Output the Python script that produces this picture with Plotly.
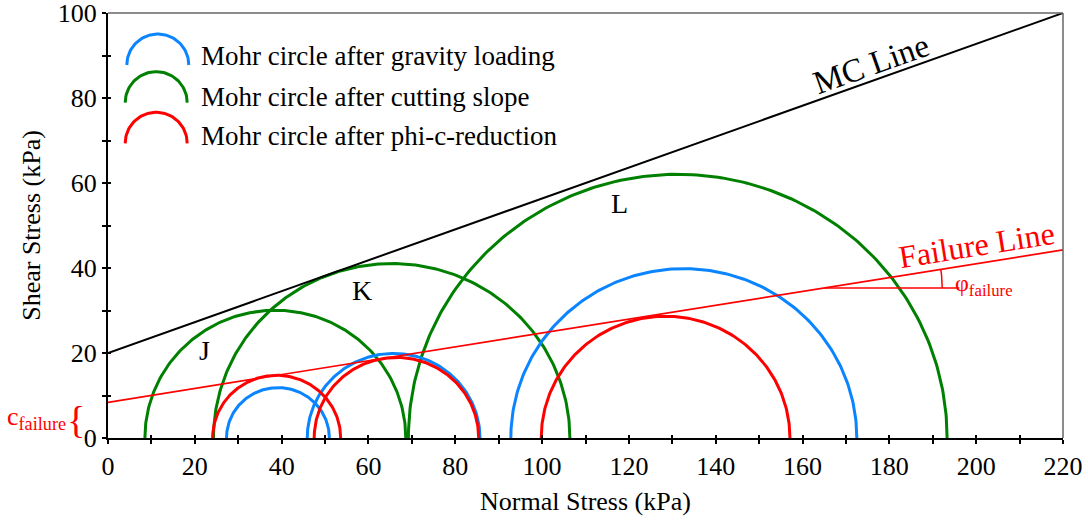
import numpy as np
import plotly.graph_objects as go

# ---------------- data ----------------
# Mohr circles given by minor / major principal stress (kPa)
gravity_s3 = [27.3, 45.9, 92.8]
gravity_s1 = [51.0, 85.7, 172.5]
cutting_s3 = [8.5, 24.3, 69.2]
cutting_s1 = [68.6, 106.4, 193.3]
phic_s3 = [24.1, 47.5, 99.8]
phic_s1 = [53.6, 85.4, 157.1]

# strength envelopes: intercept c (kPa) and slope tan(phi)
mc_c, mc_tan = 20.0, 0.3636
fail_c, fail_tan = 8.4, 0.163

circle_labels = ["J", "K", "L"]
label_x = [22.3, 58.5, 117.9]
label_y = [20.5, 34.8, 55.2]

legend_names = ["Mohr circle after gravity loading",
                "Mohr circle after cutting slope",
                "Mohr circle after phi-c-reduction"]
colors = ["#0A84FF", "#008000", "#FF0000"]

X_MAX, Y_MAX = 220, 100
x_ticks = list(range(0, 221, 20))
y_ticks = list(range(0, 101, 20))

FONT = "Liberation Serif, Times New Roman, DejaVu Serif, serif"

# ---------------- layout geometry ----------------
W, H = 1088, 529
ML, MR, MT, MB = 108, 25, 13, 91
pw, ph = W - ML - MR, H - MT - MB
sx = pw / X_MAX          # px per kPa (x)
sy = ph / Y_MAX          # px per kPa (y)


def px2data(px, py):
    return (np.asarray(px) - ML) / sx, (H - MB - np.asarray(py)) / sy


def px2paper(px, py):
    return (px - ML) / pw, (H - MB - py) / ph


fig = go.Figure()

theta = np.linspace(0, np.pi, 200)


def add_circles(s3s, s1s, color):
    for s3, s1 in zip(s3s, s1s):
        c = (s3 + s1) / 2
        r = (s1 - s3) / 2
        fig.add_trace(go.Scatter(x=c + r * np.cos(theta), y=r * np.sin(theta),
                                 mode="lines", line=dict(color=color, width=3),
                                 showlegend=False, hoverinfo="skip"))


add_circles(cutting_s3, cutting_s1, colors[1])
add_circles(gravity_s3, gravity_s1, colors[0])
add_circles(phic_s3, phic_s1, colors[2])

# envelopes
xl = np.array([0, X_MAX])
fig.add_trace(go.Scatter(x=xl, y=mc_c + mc_tan * xl, mode="lines",
                         line=dict(color="black", width=2), showlegend=False))
fig.add_trace(go.Scatter(x=xl, y=fail_c + fail_tan * xl, mode="lines",
                         line=dict(color="red", width=1.7), showlegend=False))

# friction-angle marker on the failure line
x0a = 165.0
y0a = fail_c + fail_tan * x0a
x1a = x0a + 135 / sx
fig.add_trace(go.Scatter(x=[x0a, x1a], y=[y0a, y0a], mode="lines",
                         line=dict(color="red", width=1.7), showlegend=False))
ang = np.arctan(fail_tan * sy / sx)
t = np.linspace(0, ang, 30)
R = 118
cx_px, cy_px = ML + x0a * sx, H - MB - y0a * sy
ax_, ay_ = px2data(cx_px + R * np.cos(t), cy_px - R * np.sin(t))
fig.add_trace(go.Scatter(x=ax_, y=ay_, mode="lines",
                         line=dict(color="red", width=1.5), showlegend=False))

# custom legend with arc symbols
leg_cx = [157.8, 156.2, 156.2]
leg_cy = [65.0, 102.7, 143.3]
leg_ty = [55.5, 97.0, 135.5]
tt = np.linspace(0, np.pi, 60)
annotations = []
for i in range(3):
    lx, ly = px2data(leg_cx[i] + 31 * np.cos(tt), leg_cy[i] - 31 * np.sin(tt))
    fig.add_trace(go.Scatter(x=lx, y=ly, mode="lines",
                             line=dict(color=colors[i], width=3), showlegend=False))
    tx, ty = px2data(199, leg_ty[i])
    annotations.append(dict(x=float(tx), y=float(ty), text=legend_names[i],
                            showarrow=False, xanchor="left", yanchor="middle",
                            font=dict(family=FONT, size=27, color="black")))

for lab, lx, ly in zip(circle_labels, label_x, label_y):
    annotations.append(dict(x=lx, y=ly, text=lab, showarrow=False,
                            font=dict(family=FONT, size=28, color="black")))

mc_ang = np.degrees(np.arctan(mc_tan * sy / sx))
annotations.append(dict(x=175.8, y=88.1, text="MC Line", showarrow=False,
                        textangle=-mc_ang, font=dict(family=FONT, size=33, color="black")))
annotations.append(dict(x=200.0, y=45.3, text="Failure Line", showarrow=False,
                        textangle=-np.degrees(ang), font=dict(family=FONT, size=32, color="red")))
annotations.append(dict(x=194.7, y=36.0, text="φ<sub>failure</sub>", showarrow=False,
                        xanchor="left", yanchor="middle",
                        font=dict(family=FONT, size=24, color="red")))

# cohesion marker left of the axis (paper coordinates)
cpx, cpy = px2paper(68, 418)
annotations.append(dict(x=cpx, y=cpy, xref="paper", yref="paper",
                        text="c<sub>failure</sub>", showarrow=False,
                        xanchor="right", yanchor="middle",
                        font=dict(family=FONT, size=26, color="red")))
bpx, bpy = px2paper(76, 420)
annotations.append(dict(x=bpx, y=bpy, xref="paper", yref="paper",
                        text="{", showarrow=False,
                        xanchor="center", yanchor="middle",
                        font=dict(family=FONT, size=38, color="red")))

# dummy trace for overlay axes (inner half of crossing ticks)
fig.add_trace(go.Scatter(x=[0], y=[0], xaxis="x2", yaxis="y2", mode="markers",
                         marker=dict(opacity=0), showlegend=False, hoverinfo="skip"))

axis_common = dict(showgrid=False, zeroline=False, showline=True, linecolor="black",
                   linewidth=2, ticks="outside", ticklen=4, tickwidth=1.5,
                   tickcolor="black", ticklabeloverflow="allow", automargin=False,
                   tickfont=dict(family=FONT, size=26, color="black"))

fig.update_layout(
    width=W, height=H,
    margin=dict(l=ML, r=MR, t=MT, b=MB, autoexpand=False),
    paper_bgcolor="white", plot_bgcolor="white",
    font=dict(family=FONT, color="black"),
    showlegend=False,
    xaxis=dict(range=[0, X_MAX], tickvals=x_ticks,
               minor=dict(dtick=10, tick0=0, ticks="outside", ticklen=4,
                          tickwidth=1.5, tickcolor="black"),
               title=dict(text="Normal Stress (kPa)", font=dict(family=FONT, size=26),
                          standoff=12),
               **axis_common),
    yaxis=dict(range=[0, Y_MAX], tickvals=y_ticks,
               minor=dict(dtick=10, tick0=0, ticks="outside", ticklen=4,
                          tickwidth=1.5, tickcolor="black"),
               title=dict(text="Shear Stress (kPa)", font=dict(family=FONT, size=26),
                          standoff=10),
               **axis_common),
    xaxis2=dict(range=[0, X_MAX], overlaying="x", anchor="y", showgrid=False,
                zeroline=False, showline=False, showticklabels=False,
                tickvals=x_ticks, ticks="inside", ticklen=3, tickwidth=1.5,
                tickcolor="black", automargin=False,
                minor=dict(dtick=10, tick0=0, ticks="inside", ticklen=3,
                           tickwidth=1.5, tickcolor="black")),
    yaxis2=dict(range=[0, Y_MAX], overlaying="y", anchor="x", side="left",
                showgrid=False, zeroline=False, showline=False,
                showticklabels=False, tickvals=y_ticks, ticks="inside",
                ticklen=3, tickwidth=1.5, tickcolor="black", automargin=False,
                minor=dict(dtick=10, tick0=0, ticks="inside", ticklen=3,
                           tickwidth=1.5, tickcolor="black")),
    annotations=annotations,
    shapes=[
        dict(type="line", xref="paper", yref="paper", x0=0, x1=1, y0=1, y1=1,
             line=dict(color="#666666", width=1.5)),
        dict(type="line", xref="paper", yref="paper", x0=1, x1=1, y0=0, y1=1,
             line=dict(color="#666666", width=1.5)),
    ],
)

fig.write_html("out.html")
